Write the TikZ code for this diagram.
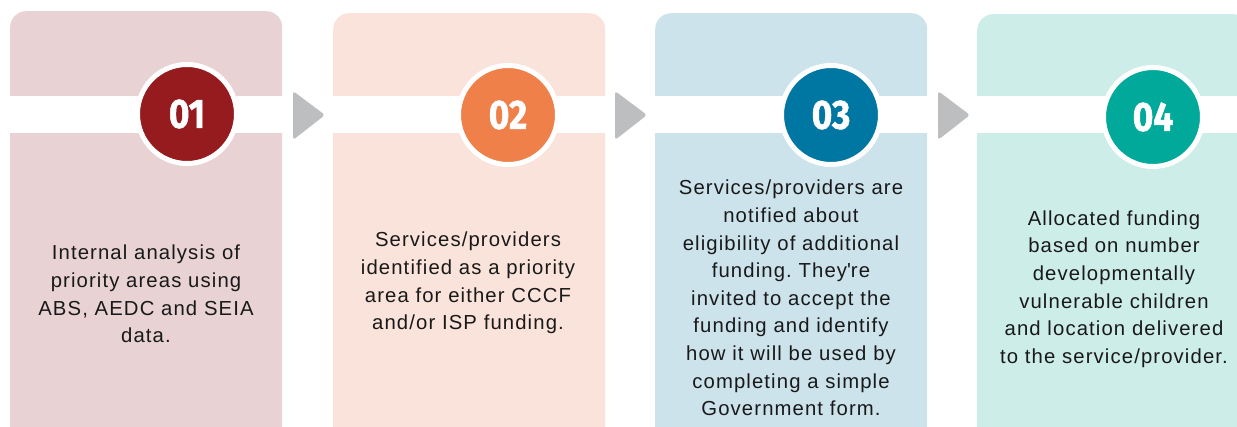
\documentclass[tikz,border=0pt]{standalone}
\usepackage{fontspec}
\setmainfont{Liberation Sans}[LetterSpace=5.5]
\newfontfamily\numfont[FakeStretch=0.86,FakeBold=1.2]{Fira Sans}
\usetikzlibrary{positioning,shapes.geometric}
\definecolor{cardA}{HTML}{E8D2D3}
\definecolor{cardB}{HTML}{FAE3DA}
\definecolor{cardC}{HTML}{CCE3EC}
\definecolor{cardD}{HTML}{CDEDE8}
\definecolor{dotA}{HTML}{951B1E}
\definecolor{dotB}{HTML}{EF8049}
\definecolor{dotC}{HTML}{0076A3}
\definecolor{dotD}{HTML}{00A99A}
\definecolor{pointgray}{HTML}{BCBEC0}
\frenchspacing

\begin{document}
\begin{tikzpicture}[x=1pt, y=-1pt,
    card/.style={rectangle, rounded corners=16pt, minimum width=272pt, minimum height=440pt, anchor=north west, inner sep=0pt},
    badge/.style={circle, draw=white, line width=5pt, minimum size=99pt, inner sep=0pt, text=white, font=\numfont\bfseries\fontsize{41}{41}\selectfont},
    blurb/.style={align=center, text=black!90, font=\fontsize{20.3}{27.6}\selectfont},
    pointer/.style={fill=pointgray, rounded corners=3pt}]
    \useasboundingbox (0,0) rectangle (1237,427);

    \node[card, fill=cardA] (B1) at (10,11) {};
    \node[card, fill=cardB] (B2) at (333,13) {};
    \node[card, fill=cardC] (B3) at (655,13) {};
    \node[card, fill=cardD] (B4) at (977,14) {};

    % white band behind the numbers
    \fill[white] (0,96) rectangle (1237,133);

    \fill[pointer] (293,91) -- (325,115) -- (293,140) -- cycle;
    \fill[pointer] (615,91) -- (647,115) -- (615,140) -- cycle;
    \fill[pointer] (938,91) -- (970,115) -- (938,140) -- cycle;

    \node[badge, fill=dotA] (N1) at (187,114) {01};
    \node[badge, fill=dotB] (N2) at (508,115) {02};
    \node[badge, fill=dotC] (N3) at (831,115) {03};
    \node[badge, fill=dotD] (N4) at (1153,117) {04};

    \node[blurb] (T1) at (146,294) {Internal analysis of\\priority areas using\\ABS, AEDC and SEIA\\data.};
    \node[blurb] (T2) at (468,283) {Services/providers\\identified as a priority\\area for either CCCF\\and/or ISP funding.};
    \node[blurb] (T3) at (791,298) {Services/providers are\\notified about\\eligibility of additional\\funding. They\textquotesingle re\\invited to accept the\\funding and identify\\how it will be used by\\completing a simple\\Government form.};
    \node[blurb] (T4) at (1114,289) {Allocated funding\\based on number\\developmentally\\vulnerable children\\and location delivered\\to the service/provider.};
\end{tikzpicture}
\end{document}
